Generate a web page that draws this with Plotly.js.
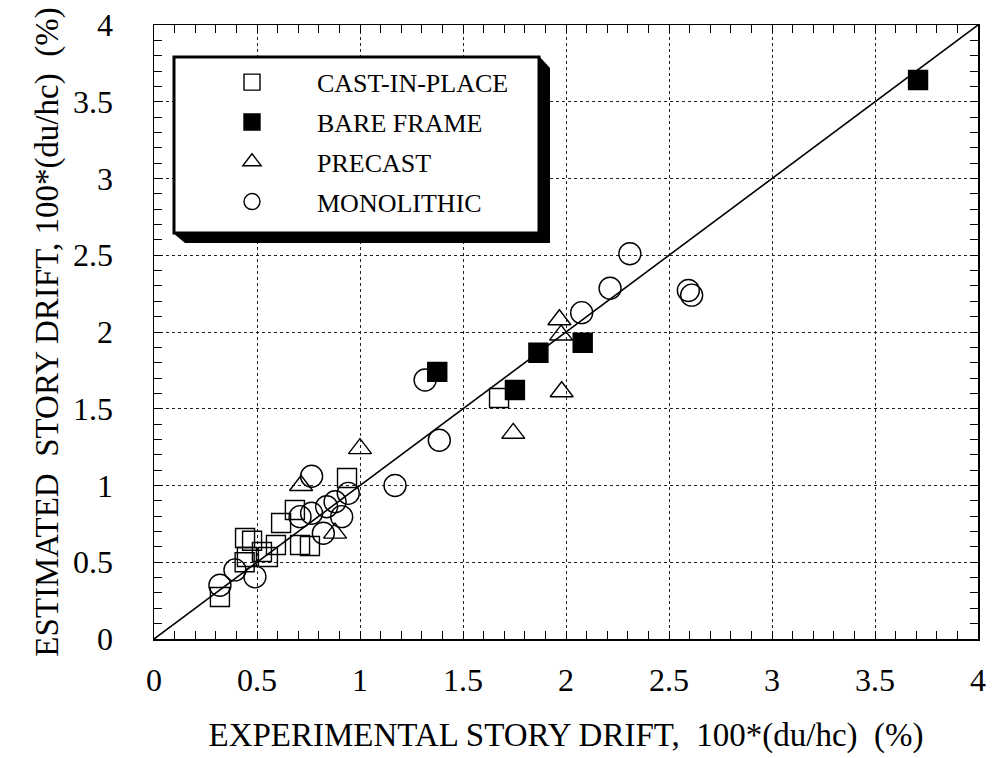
<!DOCTYPE html>
<html>
<head>
<meta charset="utf-8">
<script src="https://cdn.plot.ly/plotly-3.0.1.min.js"></script>
<style>html,body{margin:0;padding:0;background:#fff;}#chart{width:997px;height:758px;}</style>
</head>
<body>
<div id="chart"></div>
<script>
// CAST-IN-PLACE (open squares)
const castX = [0.32, 0.442, 0.476, 0.451, 0.524, 0.592, 0.617, 0.684, 0.709, 0.757, 0.553, 0.937, 1.675, 0.44];
const castY = [0.274, 0.658, 0.64, 0.534, 0.567, 0.612, 0.756, 0.84, 0.612, 0.606, 0.534, 1.049, 1.57, 0.5];
// BARE FRAME (filled squares)
const bareX = [1.375, 1.752, 1.866, 2.081, 3.709];
const bareY = [1.74, 1.622, 1.865, 1.93, 3.642];
// PRECAST (triangles)
const preX = [0.714, 1.0, 0.879, 1.744, 1.968, 1.976, 1.979];
const preY = [1.0, 1.24, 0.69, 1.34, 2.08, 1.98, 1.611];
// MONOLITHIC (circles)
const monoX = [0.32, 0.393, 0.49, 0.765, 0.709, 0.765, 0.838, 0.879, 0.943, 0.911, 0.822, 1.17, 1.316, 1.385, 2.076, 2.214, 2.31, 2.594, 2.61];
const monoY = [0.35, 0.45, 0.405, 1.06, 0.797, 0.819, 0.862, 0.894, 0.949, 0.797, 0.689, 1.0, 1.687, 1.295, 2.126, 2.285, 2.51, 2.27, 2.24];
// 1:1 reference line
const lineX = [0, 4];
const lineY = [0, 4];
const tickVals = [0, 0.5, 1, 1.5, 2, 2.5, 3, 3.5, 4];
const tickText = ['0', '0.5', '1', '1.5', '2', '2.5', '3', '3.5', '4'];

const serif = 'Liberation Serif, Times New Roman, serif';
const mk = (sym, size, fill) => ({symbol: sym, size: size, color: fill || 'black', line: {color: 'black', width: 1.4}});

const traces = [
  {x: lineX, y: lineY, mode: 'lines', line: {color: 'black', width: 1.6}, showlegend: false, hoverinfo: 'skip'},
  {x: castX, y: castY, mode: 'markers', name: 'CAST-IN-PLACE', legendgroup: 'a', marker: mk('square-open', 19)},
  {x: bareX, y: bareY, mode: 'markers', name: 'BARE FRAME', legendgroup: 'b', marker: mk('square', 19)},
  {x: preX, y: preY, mode: 'markers', name: 'PRECAST', legendgroup: 'c', marker: mk('triangle-up-open', 20)},
  {x: monoX, y: monoY, mode: 'markers', name: 'MONOLITHIC', legendgroup: 'd', marker: mk('circle-open', 22)}
];

const axisCommon = {
  range: [0, 4], autorange: false, tickmode: 'array', tickvals: tickVals, ticktext: tickText,
  ticks: 'inside', ticklen: 8, tickwidth: 1, tickcolor: 'black',
  minor: {dtick: 0.1, ticks: 'inside', ticklen: 8, tickcolor: 'black', tickwidth: 1, showgrid: false},
  showgrid: true, gridcolor: '#222', griddash: 'dot', gridwidth: 1,
  showline: true, linecolor: 'black', linewidth: 1.5, mirror: 'allticks',
  zeroline: false, tickfont: {family: serif, size: 32, color: 'black'}
};

const px2x = p => (p - 154) / 206;
const px2y = p => (639 - p) / 153.5;

const layout = {
  width: 997, height: 758,
  margin: {l: 154, r: 19, t: 25, b: 119},
  paper_bgcolor: 'white', plot_bgcolor: 'white',
  xaxis: Object.assign({}, axisCommon, {
    ticklabelstandoff: 12,
    title: {text: 'EXPERIMENTAL STORY DRIFT,\u00a0\u00a0100*(du/hc)\u00a0\u00a0(%)', font: {family: serif, size: 33, color: 'black'}, standoff: 26}
  }),
  yaxis: Object.assign({}, axisCommon, {
    ticklabelstandoff: 33,
    title: {text: 'ESTIMATED\u00a0\u00a0STORY DRIFT,\u00a0100*(du/hc)\u00a0\u00a0(%)', font: {family: serif, size: 33, color: 'black'}, standoff: 4}
  }),
  showlegend: true,
  legend: {
    x: px2x(187) / 4, y: 0.945, xanchor: 'left', yanchor: 'top',
    bgcolor: 'rgba(0,0,0,0)', borderwidth: 0,
    font: {family: serif, size: 26, color: 'black'},
    tracegroupgap: 3, itemwidth: 120, itemclick: false, itemsizing: 'trace'
  },
  shapes: [
    {type: 'path', xref: 'x', yref: 'y',
     path: 'M ' + px2x(539) + ',' + px2y(56) + ' L ' + px2x(550) + ',' + px2y(68) + ' L ' + px2x(550) + ',' + px2y(243) +
           ' L ' + px2x(185) + ',' + px2y(243) + ' L ' + px2x(173) + ',' + px2y(233) + ' Z',
     fillcolor: 'black', line: {width: 0}, layer: 'above'},
    {type: 'rect', xref: 'x', yref: 'y', x0: px2x(174), x1: px2x(539), y0: px2y(233), y1: px2y(57), fillcolor: 'white', line: {color: 'black', width: 3}, layer: 'above'}
  ]
};

Plotly.newPlot('chart', traces, layout, {displayModeBar: false, staticPlot: true});
</script>
</body>
</html>
